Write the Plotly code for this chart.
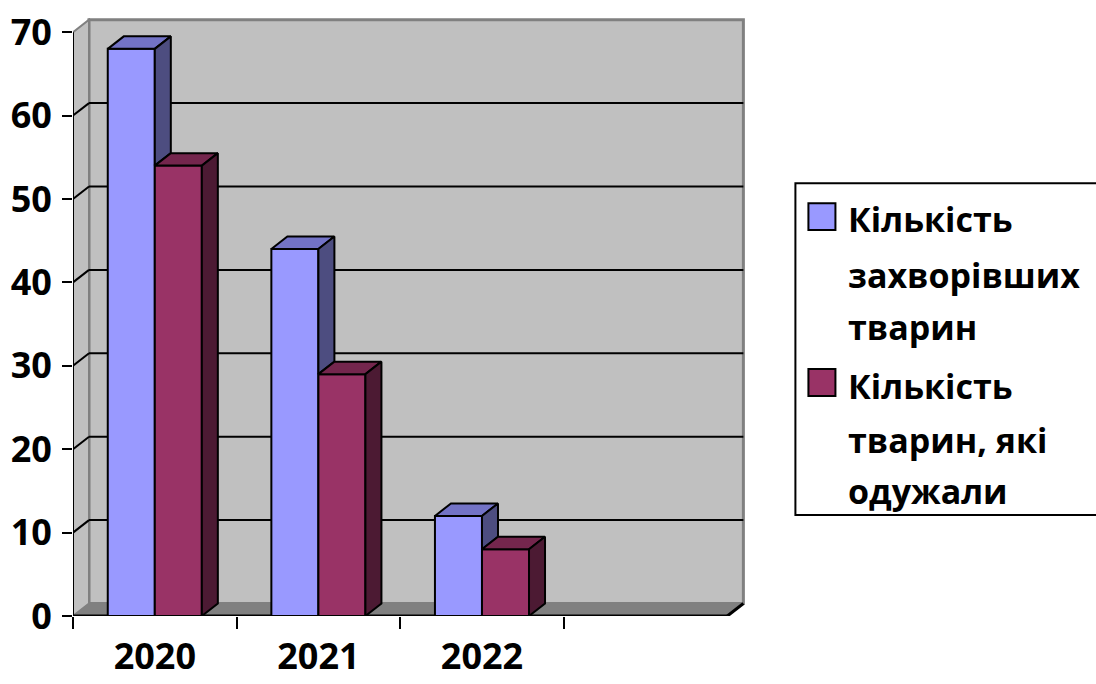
import plotly.graph_objects as go

# ---- data -------------------------------------------------------------
years = ["2020", "2021", "2022"]
sick = [68, 44, 12]          # Кількість захворівших тварин
recovered = [54, 29, 8]      # Кількість тварин, які одужали
y_tick_values = [0, 10, 20, 30, 40, 50, 60, 70]
legend_lines = [
    ["Кількість", "захворівших", "тварин"],
    ["Кількість", "тварин, які", "одужали"],
]

# ---- geometry (pixels per data unit) -----------------------------------
FIG_W, FIG_H = 1096, 684
X_UNIT_PX = 163.5
Y_UNIT_PX = 8.343
M_LEFT, M_BOTTOM = 73, 68
X_MIN, X_MAX = -0.5, 3.62
Y_MIN, Y_MAX = 0.0, 71.7
PLOT_W = (X_MAX - X_MIN) * X_UNIT_PX
PLOT_H = (Y_MAX - Y_MIN) * Y_UNIT_PX
M_RIGHT = FIG_W - M_LEFT - PLOT_W
M_TOP = FIG_H - M_BOTTOM - PLOT_H

DX = 16 / X_UNIT_PX          # 3-D depth, horizontal
DY = 12.5 / Y_UNIT_PX        # 3-D depth, vertical
N_SLOTS = len(years) + 1     # one empty slot at the right end
X_END = N_SLOTS - 0.5
Y_TOP = y_tick_values[-1]
BAR_W = 0.2875

FONT = "Open Sans"
WALL = "#C0C0C0"
WALL_EDGE = "#808080"
FLOOR = "#808080"

front_colors = ["#9999FF", "#993366"]
top_colors = ["#7373C6", "#74264D"]
side_colors = ["#4D4D80", "#4C1A33"]


def px_x(px):
    return (px - M_LEFT) / PLOT_W


def px_y(py):
    return (FIG_H - M_BOTTOM - py) / PLOT_H


positions = list(range(len(years)))
fig = go.Figure()

# front faces of the bars
for i, (name, vals) in enumerate(zip(["Кількість захворівших тварин",
                                       "Кількість тварин, які одужали"],
                                      [sick, recovered])):
    fig.add_trace(go.Bar(
        x=positions, y=vals, name=name, width=BAR_W,
        marker=dict(color=front_colors[i], line=dict(color="black", width=2)),
        showlegend=False, hoverinfo="skip",
    ))


def poly_trace(xs, ys, color):
    return go.Scatter(x=xs, y=ys, mode="lines", fill="toself",
                      fillcolor=color, line=dict(color="black", width=2),
                      showlegend=False, hoverinfo="skip")


# top and side faces
for i, vals in enumerate([sick, recovered]):
    tx, ty, sx, sy = [], [], [], []
    for p, v in zip(positions, vals):
        xl = p - BAR_W if i == 0 else p
        xr = xl + BAR_W
        tx += [xl, xr, xr + DX, xl + DX, xl, None]
        ty += [v, v, v + DY, v + DY, v, None]
        lo = 0
        if i == 0:
            lo = recovered[p]
            if lo >= v:
                continue
        sx += [xr, xr + DX, xr + DX, xr, xr, None]
        sy += [lo, lo + DY, v + DY, v, lo, None]
    fig.add_trace(poly_trace(tx, ty, top_colors[i]))
    fig.add_trace(poly_trace(sx, sy, side_colors[i]))

shapes = []


def path(points):
    return "M" + " L".join(f"{x},{y}" for x, y in points) + " Z"


# back wall
shapes.append(dict(type="path", xref="x", yref="y", layer="below",
                   path=path([(X_MIN + DX, DY), (X_END + DX, DY),
                              (X_END + DX, Y_TOP + DY), (X_MIN + DX, Y_TOP + DY)]),
                   fillcolor=WALL, line=dict(color=WALL_EDGE, width=3)))
# left wall
shapes.append(dict(type="path", xref="x", yref="y", layer="below",
                   path=path([(X_MIN, 0), (X_MIN + DX, DY),
                              (X_MIN + DX, Y_TOP + DY), (X_MIN, Y_TOP)]),
                   fillcolor=WALL, line=dict(color=WALL_EDGE, width=2)))
# floor
shapes.append(dict(type="path", xref="x", yref="y", layer="below",
                   path=path([(X_MIN, 0), (X_END, 0), (X_END + DX, DY), (X_MIN + DX, DY)]),
                   fillcolor=FLOOR, line=dict(color=WALL_EDGE, width=1)))
# gridlines on back and left walls
for v in y_tick_values[1:-1]:
    shapes.append(dict(type="line", xref="x", yref="y", layer="below",
                       x0=X_MIN + DX, x1=X_END + DX, y0=v + DY, y1=v + DY,
                       line=dict(color="black", width=2)))
    shapes.append(dict(type="line", xref="x", yref="y", layer="below",
                       x0=X_MIN, x1=X_MIN + DX, y0=v, y1=v + DY,
                       line=dict(color="black", width=2)))
# front floor edges and value axis line
shapes.append(dict(type="line", xref="x", yref="y", layer="below",
                   x0=X_MIN, x1=X_END, y0=0, y1=0, line=dict(color="black", width=3)))
shapes.append(dict(type="line", xref="x", yref="y", layer="below",
                   x0=X_END, x1=X_END + DX, y0=0, y1=DY, line=dict(color="black", width=3)))
shapes.append(dict(type="line", xref="x", yref="y", layer="below",
                   x0=X_MIN, x1=X_MIN, y0=0, y1=Y_TOP, line=dict(color="black", width=2)))

# legend box and swatches
shapes.append(dict(type="rect", xref="paper", yref="paper",
                   x0=px_x(795), x1=px_x(1110), y0=px_y(183), y1=px_y(515),
                   fillcolor="white", line=dict(color="black", width=2)))
swatch_tops = [203, 369]
for i, top in enumerate(swatch_tops):
    shapes.append(dict(type="rect", xref="paper", yref="paper",
                       x0=px_x(808), x1=px_x(835), y0=px_y(top), y1=px_y(top + 27),
                       fillcolor=front_colors[i], line=dict(color="black", width=2)))

annotations = []
line_centers = [[219, 275, 327], [386, 440, 491]]
for lines, centers in zip(legend_lines, line_centers):
    for text, cy in zip(lines, centers):
        annotations.append(dict(text=text, xref="paper", yref="paper",
                                x=px_x(846), y=px_y(cy), xanchor="left", yanchor="middle",
                                showarrow=False,
                                font=dict(family=FONT, size=34, color="black", weight="bold")))

fig.update_layout(
    width=FIG_W, height=FIG_H,
    margin=dict(l=M_LEFT, r=M_RIGHT, t=M_TOP, b=M_BOTTOM, pad=0, autoexpand=False),
    paper_bgcolor="white", plot_bgcolor="white",
    barmode="group", bargap=1 - 2 * BAR_W, bargroupgap=0,
    showlegend=False,
    shapes=shapes, annotations=annotations,
    xaxis=dict(range=[X_MIN, X_MAX], showgrid=False, zeroline=False, showline=False,
               automargin=False,
               tickmode="array", tickvals=positions, ticktext=years, ticks="",
               ticklabelstandoff=16,
               tickfont=dict(family=FONT, size=36, color="black", weight="bold"),
               minor=dict(tickmode="array",
                          tickvals=[p - 0.5 for p in range(N_SLOTS)],
                          ticks="outside", ticklen=12, tickwidth=2, tickcolor="black")),
    yaxis=dict(range=[Y_MIN, Y_MAX], showgrid=False, zeroline=False, showline=False,
               automargin=False,
               tickmode="array", tickvals=y_tick_values,
               ticks="outside", ticklen=10, tickwidth=2, tickcolor="black",
               ticklabelstandoff=3,
               tickfont=dict(family=FONT, size=36, color="black", weight="bold")),
)

fig.write_html("out.html")
